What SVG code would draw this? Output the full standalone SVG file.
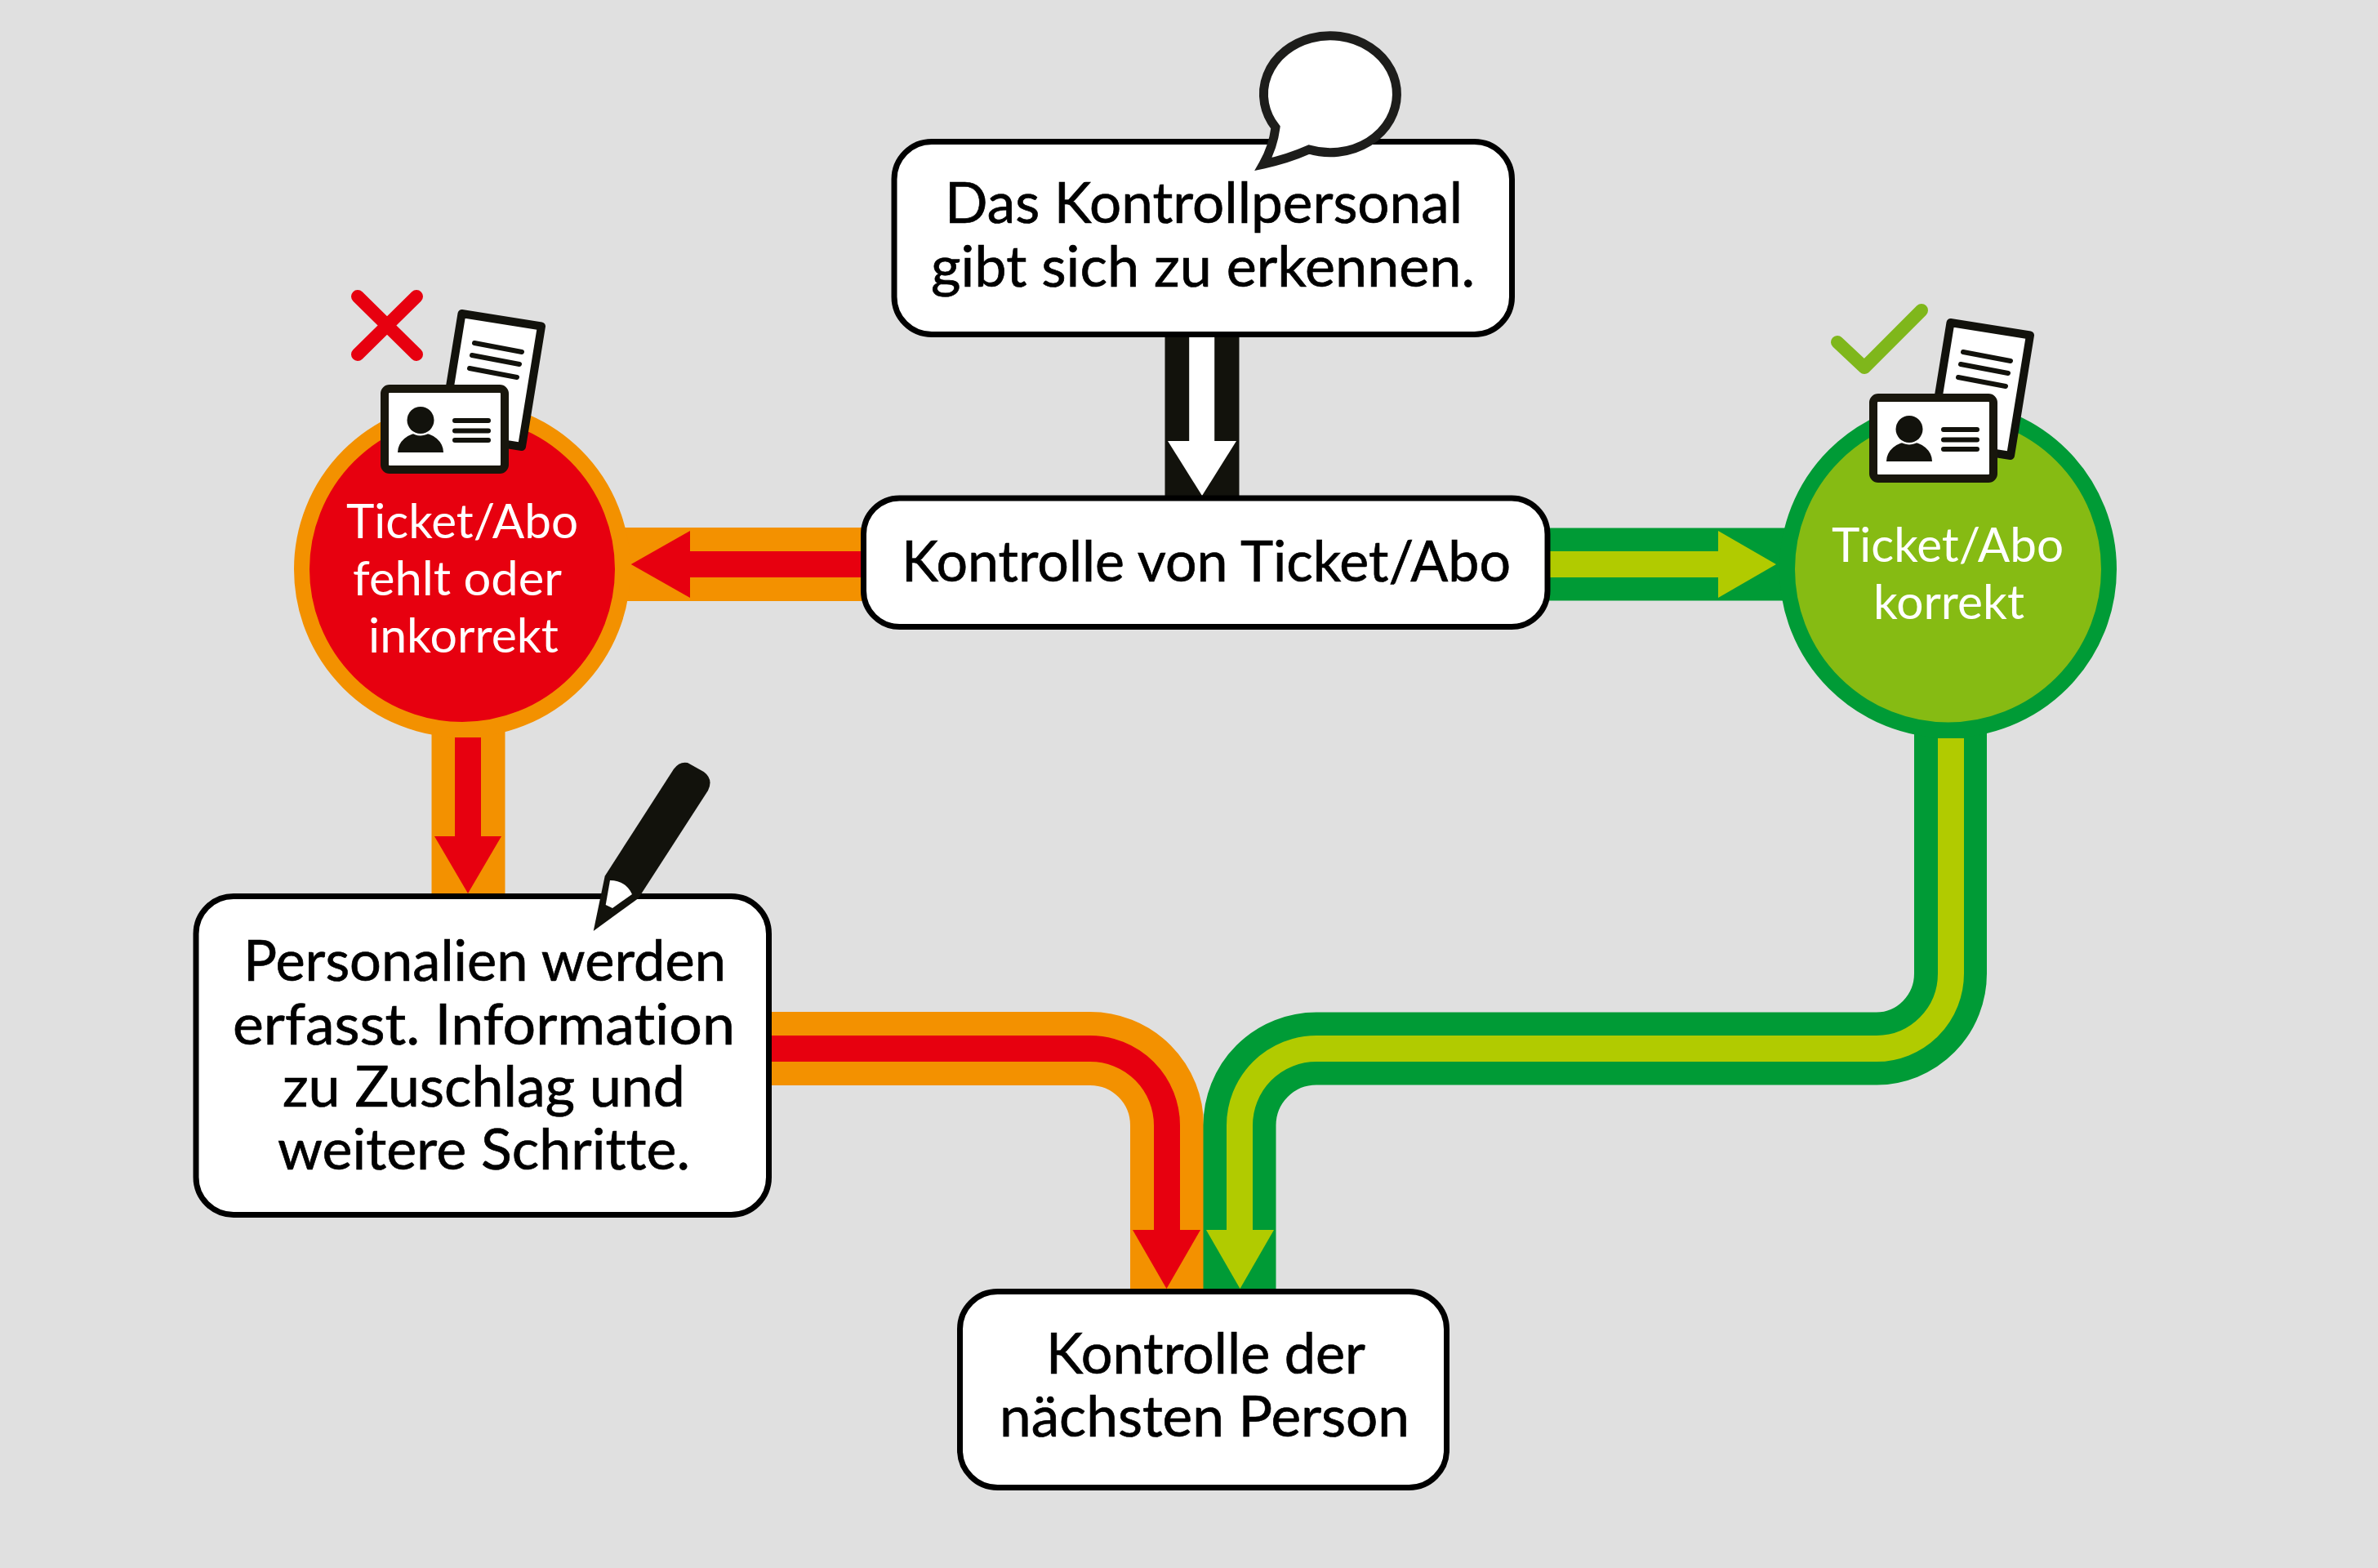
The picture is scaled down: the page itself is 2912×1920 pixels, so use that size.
<svg xmlns="http://www.w3.org/2000/svg" xmlns:xlink="http://www.w3.org/1999/xlink" width="2912" height="1920" viewBox="0 0 2912 1920">
<style>
.box{fill:#fff;stroke:#000;stroke-width:7}
.t{font-family:"Lato","Open Sans",sans-serif;font-size:69px;fill:#000;stroke:#000;stroke-width:.7;font-variant-ligatures:none}
.c{font-family:"Lato","Open Sans",sans-serif;font-size:58px;fill:#fff;font-variant-ligatures:none}
.band{fill:none}
.or{stroke:#f39100;stroke-width:90}
.re{stroke:#e7000f;stroke-width:32}
.gr{stroke:#009b36;stroke-width:89}
.li{stroke:#b1cb00;stroke-width:32}
.k{stroke:#12120c;stroke-width:91}
.w{stroke:#fff;stroke-width:31}
.doc{stroke:#12120c;stroke-linecap:round;stroke-width:6;fill:none}
</style>
<defs>
<g id="credentials">
<path d="M565.500,384 L663,399.500 L639,547 L541.500,531.500 Z" fill="#fff" stroke="#12120c" stroke-width="10" stroke-linejoin="round"/>
<path class="doc" d="M581,420L639,431M578,435L636,446M575,451L633,462"/>
<rect x="471" y="476" width="147" height="99" rx="6" fill="#fff" stroke="#18160c" stroke-width="10"/>
<path d="M487,554 A28,24 0 0 1 543,554 Z" fill="#12120c"/>
<circle cx="515" cy="514.500" r="19" fill="#fff"/>
<circle cx="515" cy="514.500" r="16.500" fill="#12120c"/>
<path class="doc" d="M557,515H598M557,527.500H598M557,539H598"/>
</g>
</defs>
<rect width="2912" height="1920" fill="#e0e0e0"/>
<g id="connectors">
<g id="c-start-check">
<path class="band k" d="M1472,410V608"/>
<path class="band w" d="M1471.700,410V541"/>
<polygon fill="#fff" points="1430,540 1514,540 1472,607"/>
</g>
<g id="c-check-fail">
<path class="band or" d="M1060,691H740"/>
<path class="band re" d="M1060,691H844"/>
<polygon fill="#e7000f" points="845,650 845,732 772.700,691"/>
</g>
<g id="c-check-ok">
<path class="band gr" d="M1895,691H2200"/>
<path class="band li" d="M1895,691H2105"/>
<polygon fill="#b1cb00" points="2104,650 2104,732 2175,691"/>
</g>
<g id="c-fail-record">
<path class="band or" d="M573.500,880V1096"/>
<path class="band re" d="M573,903V1025"/>
<polygon fill="#e7000f" points="532,1024 614,1024 573,1094"/>
</g>
<g id="c-record-next">
<path class="band or" d="M940,1284H1335A94,94 0 0 1 1429,1378V1580"/>
<path class="band re" d="M940,1284H1335A94,94 0 0 1 1429,1378V1507"/>
<polygon fill="#e7000f" points="1387,1506 1470,1506 1428.500,1578"/>
</g>
<g id="c-ok-next">
<path class="band gr" d="M2388.500,880V1192A91,92 0 0 1 2298,1284H1612A94,94 0 0 0 1518,1378V1580"/>
<path class="band li" d="M2389,904V1192A91,92 0 0 1 2298,1284H1612A94,94 0 0 0 1518,1378V1507"/>
<polygon fill="#b1cb00" points="1477,1506 1560,1506 1518.500,1578"/>
</g>
</g>
<g id="node-start">
<rect class="box" x="1095" y="173.500" width="756.500" height="236" rx="46"/>
<path d="M1603,183 A81.500,71.500 0 1 0 1562,156 C1560,172 1555,187 1547,201 C1566,197 1585,191 1603,183 Z" fill="#fff" stroke="#1d1d1b" stroke-width="11" stroke-miterlimit="8"/>
<text class="t" x="1157" y="273" textLength="634" lengthAdjust="spacingAndGlyphs">Das Kontrollpersonal</text>
<text class="t" x="1140" y="350.500" textLength="666" lengthAdjust="spacingAndGlyphs">gibt sich zu erkennen.</text>
</g>
<g id="node-check">
<rect class="box" x="1057.500" y="610" width="837.500" height="157.500" rx="44"/>
<text class="t" x="1104" y="712" textLength="746" lengthAdjust="spacingAndGlyphs">Kontrolle von Ticket/Abo</text>
</g>
<g id="node-fail">
<circle cx="566" cy="697" r="196.500" fill="#e7000f" stroke="#f39100" stroke-width="19"/>
<use href="#credentials"/>
<path d="M438,363L510,434M510,363L438,434" fill="none" stroke="#e7000f" stroke-width="16" stroke-linecap="round"/>
<text class="c" x="424" y="659" textLength="284" lengthAdjust="spacingAndGlyphs">Ticket/Abo</text>
<text class="c" x="432" y="729" textLength="256" lengthAdjust="spacingAndGlyphs">fehlt oder</text>
<text class="c" x="451" y="798.500" textLength="233" lengthAdjust="spacingAndGlyphs">inkorrekt</text>
</g>
<g id="node-ok">
<circle cx="2385.500" cy="697" r="197" fill="#86bb13" stroke="#009b36" stroke-width="19"/>
<use href="#credentials" x="1823" y="11"/>
<path d="M2250,419L2283,450L2353,380" fill="none" stroke="#7fb71b" stroke-width="16" stroke-linecap="round" stroke-linejoin="round"/>
<text class="c" x="2243" y="688" textLength="284" lengthAdjust="spacingAndGlyphs">Ticket/Abo</text>
<text class="c" x="2294" y="758" textLength="185" lengthAdjust="spacingAndGlyphs">korrekt</text>
</g>
<g id="node-record">
<rect class="box" x="240" y="1097.500" width="701.500" height="390" rx="46"/>
<path d="M726.700,1140 L740.700,1072.700 L825,941.700 Q832,932 842,934 L861.700,945 Q874,954 867,968 L781.700,1100 Z" fill="#12120c"/>
<path d="M747,1078 Q766,1078 774,1095 L750,1112 L741.700,1108 Z" fill="#fff"/>
<text class="t" x="298" y="1201" textLength="591" lengthAdjust="spacingAndGlyphs">Personalien werden</text>
<text class="t" x="285" y="1278.500" textLength="615" lengthAdjust="spacingAndGlyphs">erfasst. Information</text>
<text class="t" x="346" y="1355" textLength="493" lengthAdjust="spacingAndGlyphs">zu Zuschlag und</text>
<text class="t" x="340" y="1432" textLength="505" lengthAdjust="spacingAndGlyphs">weitere Schritte.</text>
</g>
<g id="node-next">
<rect class="box" x="1175.500" y="1581.500" width="596" height="240" rx="46"/>
<text class="t" x="1281" y="1681.500" textLength="391" lengthAdjust="spacingAndGlyphs">Kontrolle der</text>
<text class="t" x="1224" y="1759" textLength="502" lengthAdjust="spacingAndGlyphs">nächsten Person</text>
</g>
</svg>
